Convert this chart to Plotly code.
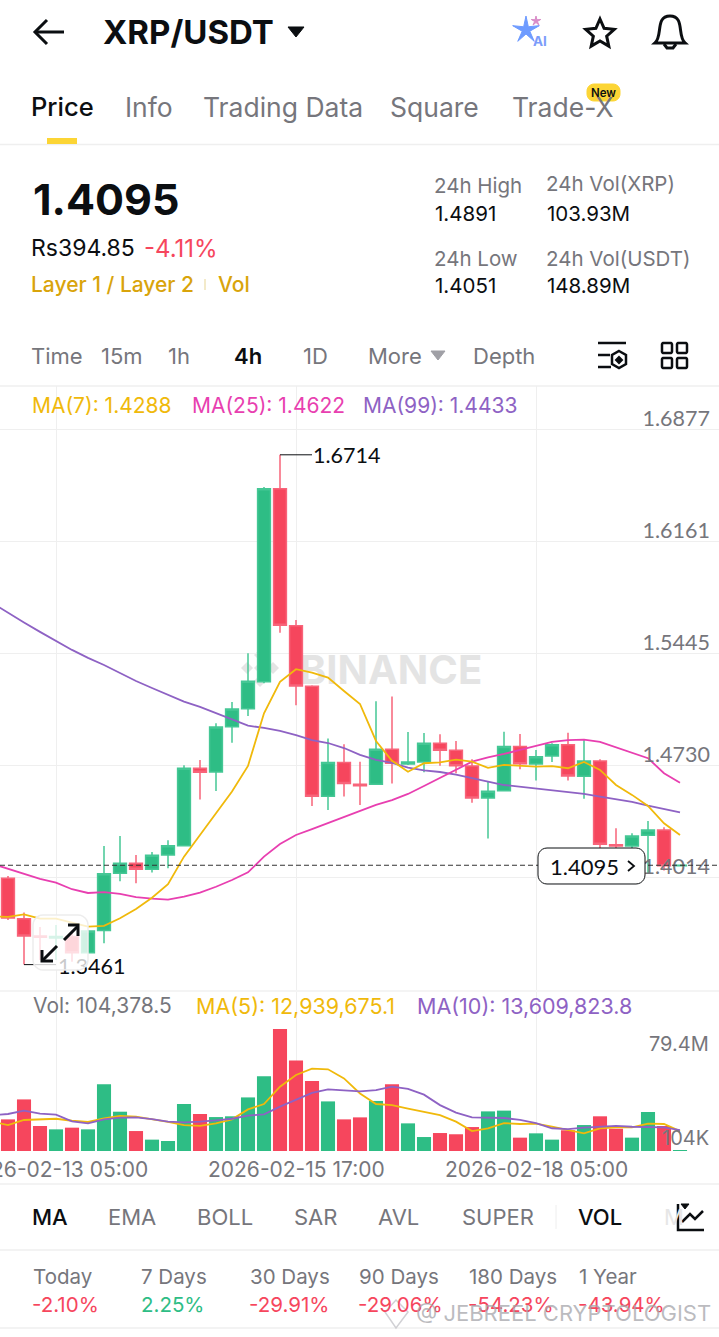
import math
import pandas as pd
import plotly.graph_objs as go

W, H = 719, 1337
FONT = "Inter"
NUM_FONT = "Lato"  # digits all the same width, like the app's axis numbers
GRAY = "#76767C"
BLACK = "#0B0E11"
GREEN = "#2EBD85"
RED = "#F6465D"
GOLD = "#F0B90B"
PINK = "#E83FB0"
PURPLE = "#8E62C4"
LINE = "#EFEFEF"

# 4h candles, first entry of dates only feeds the MA lines coming in from the left
dates = pd.date_range("2026-02-12 13:00", periods=44, freq="4h")
candle_dates = dates[1:]

opens = [1.4012, 1.3754, 1.3644, 1.3631, 1.3640, 1.3537, 1.3678, 1.4044, 1.4108, 1.4070, 1.4161,
         1.4220, 1.4714, 1.4690, 1.4979, 1.5094, 1.5266, 1.6498, 1.5624, 1.5237, 1.4535, 1.4750,
         1.4612, 1.4612, 1.4835, 1.4741, 1.4754, 1.4873, 1.4829, 1.4729, 1.4524, 1.4571, 1.4852,
         1.4741, 1.4792, 1.4864, 1.4663, 1.4760, 1.4226, 1.4218, 1.4286, 1.4320, 1.4092]
highs = [1.4027, 1.3793, 1.3701, 1.3714, 1.3682, 1.3682, 1.4218, 1.4282, 1.4161, 1.4180, 1.4255,
         1.4733, 1.4767, 1.5001, 1.5137, 1.5448, 1.6509, 1.6714, 1.5660, 1.5243, 1.4903, 1.4867,
         1.4756, 1.5141, 1.5171, 1.4945, 1.4939, 1.4931, 1.4888, 1.4771, 1.4628, 1.4947, 1.4933,
         1.4831, 1.4873, 1.4941, 1.4901, 1.4771, 1.4331, 1.4299, 1.4378, 1.4337, 1.4100]
lows = [1.3746, 1.3461, 1.3491, 1.3491, 1.3480, 1.3536, 1.3597, 1.3993, 1.3980, 1.4048, 1.4076,
        1.4214, 1.4514, 1.4569, 1.4877, 1.5048, 1.5256, 1.5579, 1.5116, 1.4473, 1.4448, 1.4533,
        1.4480, 1.4607, 1.4616, 1.4735, 1.4688, 1.4730, 1.4682, 1.4494, 1.4265, 1.4569, 1.4708,
        1.4635, 1.4754, 1.4635, 1.4520, 1.4199, 1.4101, 1.4144, 1.4040, 1.4061, 1.4090]
closes = [1.3759, 1.3644, 1.3636, 1.3640, 1.3537, 1.3676, 1.4041, 1.4108, 1.4070, 1.4159, 1.4220,
          1.4714, 1.4688, 1.4977, 1.5092, 1.5269, 1.6498, 1.5626, 1.5239, 1.4535, 1.4750, 1.4616,
          1.4603, 1.4835, 1.4746, 1.4754, 1.4873, 1.4829, 1.4730, 1.4524, 1.4567, 1.4852, 1.4743,
          1.4788, 1.4864, 1.4665, 1.4760, 1.4229, 1.4218, 1.4282, 1.4320, 1.4092, 1.4095]

ma7 = [1.3770, 1.3765, 1.3782, 1.3754, 1.3754, 1.3729, 1.3703, 1.3708, 1.3757, 1.3816, 1.3888, 1.3974,
       1.4150, 1.4288, 1.4427, 1.4565, 1.4729, 1.5065, 1.5266, 1.5346, 1.5324, 1.5292, 1.5207,
       1.5124, 1.4888, 1.4762, 1.4692, 1.4746, 1.4752, 1.4769, 1.4756, 1.4716, 1.4735, 1.4729,
       1.4724, 1.4727, 1.4714, 1.4754, 1.4703, 1.4607, 1.4544, 1.4473, 1.4363, 1.4288]
ma25 = [1.4105, 1.4071, 1.4040, 1.4008, 1.3984, 1.3942, 1.3918, 1.3923, 1.3912, 1.3891, 1.3882, 1.3876,
        1.3895, 1.3920, 1.3958, 1.4001, 1.4050, 1.4150, 1.4231, 1.4288, 1.4325, 1.4363, 1.4401,
        1.4437, 1.4480, 1.4510, 1.4550, 1.4601, 1.4654, 1.4708, 1.4756, 1.4784, 1.4805, 1.4831,
        1.4856, 1.4882, 1.4894, 1.4896, 1.4882, 1.4848, 1.4813, 1.4778, 1.4682, 1.4622]
ma99 = [1.5769, 1.5705, 1.5644, 1.5584, 1.5526, 1.5469, 1.5418, 1.5373, 1.5322, 1.5271, 1.5226, 1.5182,
        1.5139, 1.5105, 1.5067, 1.5028, 1.4986, 1.4971, 1.4952, 1.4926, 1.4894, 1.4875, 1.4843,
        1.4799, 1.4767, 1.4748, 1.4718, 1.4701, 1.4690, 1.4673, 1.4648, 1.4628, 1.4607, 1.4595,
        1.4584, 1.4571, 1.4561, 1.4550, 1.4533, 1.4516, 1.4499, 1.4475, 1.4454, 1.4433]

# volume in millions
volume = [20.6, 33.6, 16.3, 14.1, 15.2, 14.1, 43.4, 25.6, 13.0, 7.4, 6.5, 30.6, 24.1, 22.1, 22.6,
          34.9, 48.6, 79.4, 59.0, 45.6, 32.3, 20.6, 21.9, 32.6, 43.4, 18.0, 9.1, 11.7, 10.9, 15.6,
          25.8, 26.3, 8.7, 11.5, 7.4, 13.5, 16.9, 22.6, 14.5, 8.7, 25.4, 16.3, 0.104]
vol_ma5 = [19.1, 16.9, 20.2, 20.8, 21.0, 19.7, 18.9, 21.3, 22.8, 22.4, 20.8, 18.9, 16.9, 16.3, 18.0,
           20.6, 27.1, 30.6, 41.9, 49.5, 53.6, 53.2, 47.3, 37.5, 30.6, 29.9, 27.6, 25.6, 23.4, 19.1,
           13.0, 14.8, 18.2, 17.6, 17.8, 15.8, 13.5, 11.5, 14.8, 15.4, 15.4, 17.8, 17.6, 12.9]
vol_ma10 = [23.2, 24.1, 26.3, 24.3, 23.7, 19.3, 18.0, 20.6, 21.7, 21.9, 20.8, 19.1, 18.7, 19.1, 20.0,
            21.0, 23.0, 23.9, 28.9, 33.6, 37.8, 40.1, 39.3, 38.8, 39.7, 41.9, 40.4, 36.7, 29.9, 25.0,
            21.9, 21.5, 21.5, 20.2, 18.2, 14.8, 14.3, 15.2, 15.8, 16.3, 15.8, 15.8, 15.4, 13.6]

price_ticks = [1.6877, 1.6161, 1.5445, 1.4730, 1.4014, 1.3298]
price_labels = ["1.6877", "1.6161", "1.5445", "1.4730", "1.4014", "1.3298"]
date_ticks = ["2026-02-13 05:00", "2026-02-15 17:00", "2026-02-18 05:00"]
date_label_x = [56, 296, 536]
last_price = 1.4095

tabs = [("Price", 31), ("Info", 125), ("Trading Data", 203), ("Square", 391), ("Trade-X", 512)]
intervals = [("Time", 31), ("15m", 101), ("1h", 168), ("1D", 303), ("More", 368), ("Depth", 473)]
indicators = [("EMA", 108), ("BOLL", 197), ("SAR", 294), ("AVL", 379), ("SUPER", 462)]
period_names = ["Today", "7 Days", "30 Days", "90 Days", "180 Days", "1 Year"]
period_changes = ["-2.10%", "2.25%", "-29.91%", "-29.06%", "-54.23%", "-43.94%"]
period_x = [33, 141, 250, 359, 469, 579]


def px(x, y):
    return x / W, 1 - y / H


def text(s, x, y, size=20, color=GRAY, anchor="left", weight=400, family=FONT):
    # Inter's side bearing pushes left aligned text a bit to the right
    xp, yp = px(x - 1.5 if anchor == "left" else x, y)
    return dict(text=s, x=xp, y=yp, xref="paper", yref="paper", xanchor=anchor, yanchor="middle",
                showarrow=False, borderpad=0,
                font=dict(family=family, size=size, color=color, weight=weight))


def poly(points, close=False):
    s = "M" + " L".join("%.5f,%.5f" % px(x, y) for x, y in points)
    return s + (" Z" if close else "")


def icon(points, color=BLACK, width=3, fill=None, close=False):
    return dict(type="path", path=poly(points, close), xref="paper", yref="paper", layer="above",
                line=dict(color=color, width=width), fillcolor=fill or "rgba(0,0,0,0)")


def hline(y, x0=0, x1=W, color=LINE, width=1.5):
    return icon([(x0, y), (x1, y)], color=color, width=width)


def round_box(x0, y0, x1, y1, r):
    pts = []
    for cx, cy, a0 in [(x1 - r, y0 + r, -90), (x1 - r, y1 - r, 0), (x0 + r, y1 - r, 90), (x0 + r, y0 + r, 180)]:
        for k in range(7):
            a = math.radians(a0 + k * 15)
            pts.append((cx + r * math.cos(a), cy + r * math.sin(a)))
    return pts


def star(cx, cy, r, inner):
    return [(cx + (r if k % 2 == 0 else inner) * math.sin(k * math.pi / 5),
             cy - (r if k % 2 == 0 else inner) * math.cos(k * math.pi / 5)) for k in range(10)]


fig = go.Figure()

fig.add_trace(go.Candlestick(x=candle_dates, open=opens, high=highs, low=lows, close=closes,
                             increasing=dict(line=dict(color="#45C795", width=1.5), fillcolor=GREEN),
                             decreasing=dict(line=dict(color="#F8647A", width=1.5), fillcolor=RED),
                             xaxis="x", yaxis="y", showlegend=False))
for values, color in [(ma99, PURPLE), (ma25, PINK), (ma7, GOLD)]:
    fig.add_trace(go.Scatter(x=dates, y=values, mode="lines", line=dict(color=color, width=1.8),
                             xaxis="x", yaxis="y", showlegend=False))

bar_colors = [GREEN if c >= o else RED for o, c in zip(opens, closes)]
fig.add_trace(go.Bar(x=candle_dates, y=volume, marker=dict(color=bar_colors, line=dict(width=0)),
                     xaxis="x2", yaxis="y2", showlegend=False))
for values, color in [(vol_ma5, GOLD), (vol_ma10, PURPLE)]:
    fig.add_trace(go.Scatter(x=dates, y=values, mode="lines", line=dict(color=color, width=1.8),
                             xaxis="x2", yaxis="y2", showlegend=False))

notes = []
shapes = []

# header
notes.append(text("XRP/USDT", 103, 32, size=33, color=BLACK, weight=700))
shapes.append(icon([(36, 32), (64, 32)]))
shapes.append(icon([(47, 20), (35, 32), (47, 44)]))
shapes.append(icon([(288, 27), (304, 27), (296, 37)], fill=BLACK, width=1, close=True))
shapes.append(icon(star(526, 30, 14, 4), color="#6E9BFF", width=1, fill="#6E9BFF", close=True))
shapes.append(icon(star(536, 21, 5, 1.5), color="#D98CC8", width=1, fill="#D98CC8", close=True))
notes.append(text("AI", 533, 41, size=13.5, color="#7C9CFA", weight=700))
shapes.append(icon(star(600, 34, 15, 7), width=3, close=True))
shapes.append(dict(type="path", xref="paper", yref="paper", layer="above", line=dict(color=BLACK, width=3),
                   path="M%.5f,%.5f C%.5f,%.5f %.5f,%.5f %.5f,%.5f C%.5f,%.5f %.5f,%.5f %.5f,%.5f Z" % (
                       *px(655, 43), *px(663, 36), *px(655, 16), *px(670, 16),
                       *px(685, 16), *px(677, 36), *px(685, 43))))
shapes.append(icon([(664, 44), (667, 48), (673, 48), (676, 44)]))

# tabs
for i, (name, x) in enumerate(tabs):
    notes.append(text(name, x, 107, size=25.5 if i == 0 else 26.5, color=BLACK if i == 0 else GRAY,
                      weight=500 if i == 0 else 400))
shapes.append(icon(round_box(587, 84, 620, 101, 7), color="#FCD535", width=1, fill="#FCD535", close=True))
notes.append(text("New", 603.5, 93, size=11.5, color=BLACK, anchor="center", weight=600))
shapes.append(hline(144.5))
shapes.append(dict(type="rect", x0=px(47, 0)[0], x1=px(77, 0)[0], y0=px(0, 144)[1], y1=px(0, 138)[1],
                   xref="paper", yref="paper", fillcolor="#FCD535", line=dict(width=0), layer="above"))

# ticker block
notes.append(text("1.4095", 33, 199, size=43, color=BLACK, weight=700))
notes.append(text("Rs394.85", 31, 248, size=23, color=BLACK))
notes.append(text("-4.11%", 144, 248, size=24, color=RED))
notes.append(text("Layer 1 / Layer 2", 31, 284, size=21, color="#D9A40B", weight=500))
shapes.append(icon([(205, 279), (205, 290)], color="#EFE3B8", width=1.5))
notes.append(text("Vol", 218, 284, size=21, color="#D9A40B", weight=500))
for label, value, x, y in [("24h High", "1.4891", 434, 186), ("24h Vol(XRP)", "103.93M", 546, 184),
                           ("24h Low", "1.4051", 434, 258), ("24h Vol(USDT)", "148.89M", 546, 258)]:
    notes.append(text(label, x, y, size=20.5))
    notes.append(text(value, x + 1, 214 if y < 200 else 286, size=20.5, color=BLACK))

# interval row
for name, x in intervals:
    notes.append(text(name, x, 356, size=22))
notes.append(text("4h", 234, 356, size=22, color=BLACK, weight=600))
shapes.append(icon([(431, 351), (445, 351), (438, 360)], color="#A0A0A6", width=1, fill="#A0A0A6", close=True))
for seg in [[(598, 343), (626, 343)], [(598, 355), (610, 355)], [(598, 367), (611, 367)]]:
    shapes.append(icon(seg, width=2.5))
shapes.append(icon([(619, 351), (626, 355), (626, 364), (619, 368), (612, 364), (612, 355)], width=2.5, close=True))
shapes.append(icon([(619, 357), (622, 360), (619, 363), (616, 360)], width=2, fill=BLACK, close=True))
for x0, y0 in [(662, 343), (677, 343), (662, 358), (677, 358)]:
    shapes.append(icon(round_box(x0, y0, x0 + 10, y0 + 10, 1.5), width=2.5, close=True))
shapes.append(hline(386))

# MA captions
notes.append(text("MA(7): 1.4288", 32, 405, size=21, color=GOLD))
notes.append(text("MA(25): 1.4622", 192, 405, size=21, color=PINK))
notes.append(text("MA(99): 1.4433", 363, 405, size=21, color=PURPLE))

# watermark sits under the candles
shapes.append(dict(type="rect", xref="paper", yref="paper", layer="below", line=dict(width=0),
                   x0=px(300, 0)[0], x1=px(482, 0)[0], y0=px(0, 690)[1], y1=px(0, 646)[1],
                   label=dict(text="BINANCE", textposition="middle center",
                              font=dict(family=FONT, size=40, color="#E4E4E4", weight=700))))
for cx, cy in [(260, 668), (247, 668), (273, 668), (260, 655), (260, 681)]:
    shapes.append(dict(type="path", xref="paper", yref="paper", layer="below", line=dict(width=0), fillcolor="#E4E4E4",
                       path=poly([(cx, cy - 6), (cx + 6, cy), (cx, cy + 6), (cx - 6, cy)], True)))

# high / low markers
shapes.append(dict(type="line", xref="x", yref="y", x0=candle_dates[17], x1=candle_dates[19],
                   y0=1.6714, y1=1.6714, line=dict(color=BLACK, width=1), layer="above"))
notes.append(dict(text="1.6714", x=candle_dates[19], y=1.6714, xref="x", yref="y", xanchor="left", yanchor="middle",
                  showarrow=False, borderpad=0, font=dict(family=NUM_FONT, size=21.5, color=BLACK)))
shapes.append(dict(type="line", xref="x", yref="y", x0=candle_dates[1], x1=candle_dates[3],
                   y0=1.3461, y1=1.3461, line=dict(color=BLACK, width=1), layer="above"))
shapes.append(dict(type="rect", xref="paper", yref="paper", layer="above", line=dict(width=0),
                   x0=px(55, 0)[0], x1=px(126, 0)[0], y0=px(0, 977)[1], y1=px(0, 953)[1],
                   label=dict(text="1.3461", textposition="middle left", padding=0,
                              font=dict(family=NUM_FONT, size=21.5, color=BLACK))))

# expand button floats over the chart
shapes.append(icon(round_box(33, 915, 88, 970, 10), color="#EDEDED", width=1.5, fill="rgba(255,255,255,0.78)", close=True))
shapes.append(icon([(43, 960), (57, 946)]))
shapes.append(icon([(42, 950), (42, 961), (53, 961)]))
shapes.append(icon([(64, 940), (78, 926)]))
shapes.append(icon([(68, 925), (78, 925), (78, 936)]))

# last price line and tag
shapes.append(dict(type="line", xref="paper", yref="y", x0=0, x1=1, y0=last_price, y1=last_price,
                   line=dict(color="#333333", width=1, dash="5px,3px"), layer="above"))
shapes.append(icon(round_box(538, 848, 645, 884, 9), color=BLACK, width=1, fill="white", close=True))
notes.append(text("1.4095", 550, 866.5, size=22, color=BLACK, family=NUM_FONT))
shapes.append(icon([(628, 861), (634, 866), (628, 871)], width=1.8))

# volume captions
notes.append(text("Vol: 104,378.5", 33, 1006, size=21))
notes.append(text("MA(5): 12,939,675.1", 196, 1006, size=21.5, color=GOLD))
notes.append(text("MA(10): 13,609,823.8", 417, 1006, size=21.5, color=PURPLE))
notes.append(text("79.4M", 710, 1044, size=20, anchor="right"))
notes.append(text("104K", 710, 1138, size=20, anchor="right"))
shapes.append(hline(991, color="#F4F4F4", width=2))

# date labels, the first one runs off the left edge
for s, x in zip(date_ticks, date_label_x):
    notes.append(text(s, x, 1169, size=21, anchor="center"))

# indicator row
shapes.append(hline(1184))
shapes.append(hline(1250))
shapes.append(hline(1328))
notes.append(text("MA", 32, 1217, size=22, color=BLACK, weight=500))
for name, x in indicators:
    notes.append(text(name, x, 1217, size=22))
shapes.append(icon([(556, 1205), (556, 1229)], color="#EEEEEE", width=1))
notes.append(text("VOL", 578, 1217, size=22, color=BLACK, weight=500))
notes.append(text("M", 664, 1217, size=22, color="#E6E6E6"))
shapes.append(icon([(678, 1204), (678, 1230), (704, 1230)], width=2.5))
shapes.append(icon([(682, 1222), (690, 1214), (695, 1219), (703, 1211)], width=2.5))
shapes.append(icon([(681, 1204), (689, 1204), (685, 1209)], width=1, fill=BLACK, close=True))

# period performance
for name, change, x in zip(period_names, period_changes, period_x):
    notes.append(text(name, x, 1276, size=20.5))
    notes.append(text(change, x - 1 if change[0] == "-" else x, 1304, size=20.5,
                      color=RED if change[0] == "-" else GREEN))

# repost watermark
notes.append(text("@ JEBREEL CRYPTOLOGIST", 416, 1313, size=22, color="rgba(165,165,170,0.75)"))
shapes.append(icon([(396, 1300), (408, 1312), (396, 1328), (385, 1312)], color="rgba(190,190,195,0.7)", width=1.5, close=True))

fig.update_layout(
    width=W, height=H, margin=dict(l=0, r=0, t=0, b=0), autosize=False,
    paper_bgcolor="white", plot_bgcolor="white", hovermode=False,
    boxgap=0.2, boxgroupgap=0, bargap=0.12,
    xaxis=dict(domain=[0, 1], anchor="y", type="date", range=["2026-02-12 15:00", "2026-02-20 02:45"],
               rangeslider=dict(visible=False), tickvals=date_ticks, showticklabels=False, ticks="",
               showgrid=True, gridcolor=LINE, gridwidth=1, zeroline=False, showline=False),
    yaxis=dict(domain=[1 - 990 / H, 1 - 386 / H], anchor="x", range=[1.3299, 1.7153], side="right",
               tickvals=price_ticks, ticktext=price_labels, ticklabelposition="inside", ticklabelshift=-11,
               ticklabelstandoff=6, tickfont=dict(family=NUM_FONT, size=21.5, color=GRAY), ticks="",
               showgrid=True, gridcolor=LINE, gridwidth=1, zeroline=False, showline=False),
    xaxis2=dict(domain=[0, 1], anchor="y2", type="date", range=["2026-02-12 15:00", "2026-02-20 02:45"],
                tickvals=date_ticks, showticklabels=False, ticks="",
                showgrid=True, gridcolor=LINE, gridwidth=1, zeroline=False, showline=False),
    yaxis2=dict(domain=[1 - 1151 / H, 1 - 991 / H], anchor="x2", range=[0, 104.2], showticklabels=False,
                ticks="", showgrid=False, zeroline=False, showline=False),
    annotations=notes, shapes=shapes,
)

fig.write_html("out.html", config=dict(displayModeBar=False), post_script="document.body.style.margin='0';")
